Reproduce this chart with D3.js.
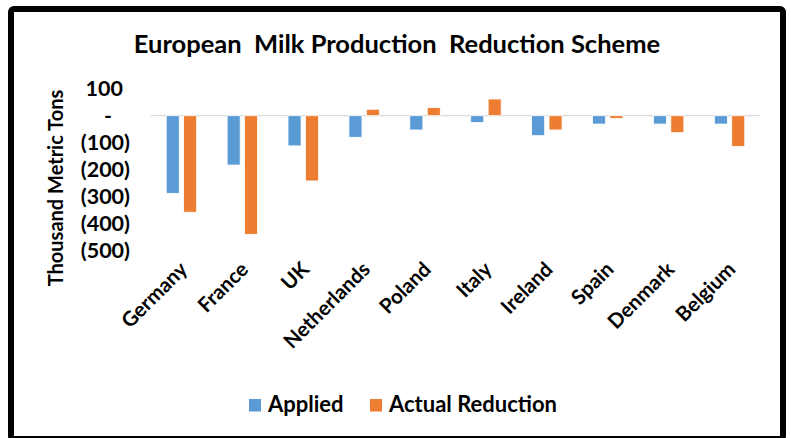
<!DOCTYPE html>
<html>
<head>
<meta charset="utf-8">
<script src="https://cdn.jsdelivr.net/npm/d3@7"></script>
<style>
  html, body { margin: 0; padding: 0; background: #fff; }
  svg { display: block; }
  text { font-family: Lato, "Open Sans", sans-serif; font-weight: 700; fill: #000; }
</style>
</head>
<body>
<svg id="chart" width="791" height="438"></svg>
<script>
const categories = ["Germany", "France", "UK", "Netherlands", "Poland", "Italy", "Ireland", "Spain", "Denmark", "Belgium"];
const seriesNames = ["Applied", "Actual Reduction"];
const applied = [-288, -183, -112, -80, -53, -25, -74, -31, -31, -31];
const actualReduction = [-358, -440, -242, 24, 30, 62, -53, -10, -63, -114];
const yTicks = [100, 0, -100, -200, -300, -400, -500];
const colors = ["#5B9BD5", "#ED7D31"];
const title = "European  Milk Production  Reduction Scheme";
const yTitle = "Thousand Metric Tons";

const seriesValues = [applied, actualReduction];

const svg = d3.select("#chart");
const W = 791, H = 438;
svg.append("rect").attr("width", W).attr("height", H).attr("fill", "#fff");

// outer frame
svg.append("rect")
  .attr("x", 11).attr("y", 9).attr("width", 772).attr("height", 430)
  .attr("rx", 3).attr("fill", "none").attr("stroke", "#000").attr("stroke-width", 6);

const plot = { left: 151, right: 760, top: 88.75, bottom: 250.5 };

const x0 = d3.scaleBand().domain(categories).range([plot.left, plot.right])
  .paddingInner(0.5).paddingOuter(0.25);
const x1 = d3.scaleBand().domain(seriesNames).range([0, x0.bandwidth()]).paddingInner(0.25);
const y = d3.scaleLinear().domain([-500, 100]).range([plot.bottom, plot.top]);

// title
svg.append("text").attr("x", 397).attr("y", 53).attr("text-anchor", "middle")
  .style("font-size", "25.5px").style("white-space", "pre").text(title);

// y axis
const fmt = v => v === 0 ? "-" : (v < 0 ? "(" + Math.abs(v) + ")" : String(v));
const yAxis = d3.axisLeft(y).tickValues(yTicks).tickSize(0).tickPadding(0).tickFormat(fmt);
const gy = svg.append("g").attr("transform", "translate(130,0)").call(yAxis);
gy.select(".domain").remove();
gy.selectAll("text")
  .style("font-size", "21.5px").style("font-family", "Lato, sans-serif").attr("fill", "#000")
  .attr("dx", d => d === 0 ? -18 : (d > 0 ? -7 : 0));

// zero line
svg.append("line").attr("x1", plot.left).attr("x2", plot.right)
  .attr("y1", y(0)).attr("y2", y(0)).attr("stroke", "#D9D9D9").attr("stroke-width", 1.2);

// bars
const groups = svg.append("g").selectAll("g").data(categories).join("g")
  .attr("transform", d => `translate(${x0(d)},0)`);
groups.selectAll("rect")
  .data((d, i) => seriesNames.map((s, j) => ({ s, v: seriesValues[j][i], j })))
  .join("rect")
  .attr("x", d => x1(d.s)).attr("width", x1.bandwidth())
  .attr("y", d => y(Math.max(0, d.v)))
  .attr("height", d => Math.abs(y(d.v) - y(0)))
  .attr("fill", d => colors[d.j]).attr("stroke", "#fff").attr("stroke-width", 0.8);

// x axis labels
const xAxis = d3.axisBottom(x0).tickSize(0).tickPadding(0);
const gx = svg.append("g").attr("transform", `translate(0,${plot.bottom})`).call(xAxis);
gx.select(".domain").remove();
gx.selectAll("text")
  .style("font-size", "20.5px").style("font-family", "Lato, sans-serif").attr("fill", "#000")
  .attr("text-anchor", "end").attr("y", 0).attr("dy", "0.7em")
  .attr("transform", "translate(-3,10) rotate(-45)");

// y title
svg.append("text").attr("transform", "translate(63,188) rotate(-90)")
  .attr("text-anchor", "middle").style("font-size", "20px").text(yTitle);

// legend
const legendX = [249, 370];
const lg = svg.append("g").selectAll("g").data(seriesNames).join("g")
  .attr("transform", (d, i) => `translate(${legendX[i]},399)`);
lg.append("rect").attr("width", 12).attr("height", 12.5).attr("fill", (d, i) => colors[i]);
lg.append("text").attr("x", 19).attr("y", 12.5).style("font-size", "22px").text(d => d);
</script>
</body>
</html>
